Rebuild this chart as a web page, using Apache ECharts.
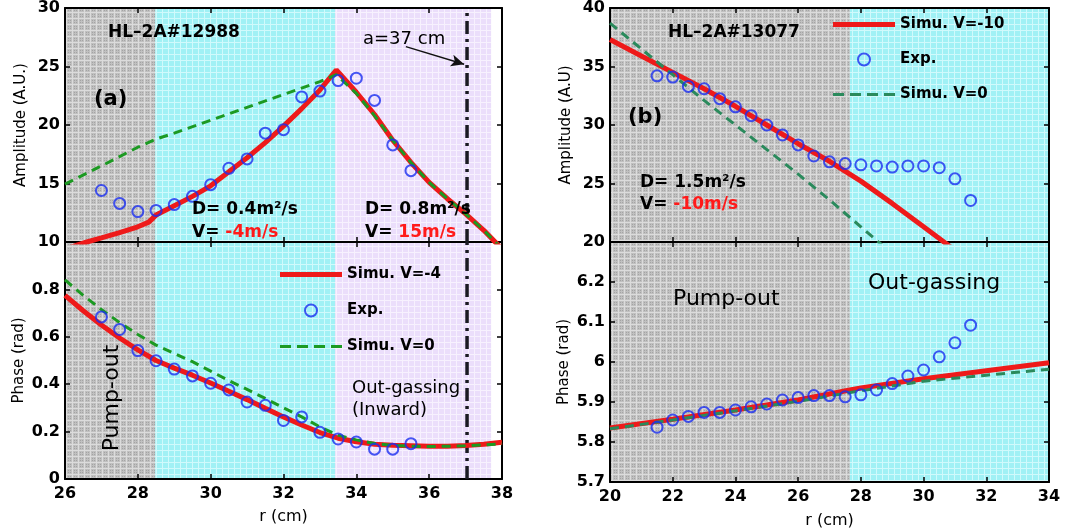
<!DOCTYPE html>
<html><head><meta charset="utf-8">
<script src="https://cdn.jsdelivr.net/npm/echarts/dist/echarts.min.js"></script>
<style>html,body{margin:0;padding:0;background:#fff}#c{width:1088px;height:530px}</style>
</head><body><div id="c"></div><script>
// ---------- data ----------
// Panel (a) HL-2A#12988
const rExpA = [27,27.5,28,28.5,29,29.5,30,30.5,31,31.5,32,32.5,33,33.5,34,34.5,35,35.5];
const ampExpA = [14.4,13.3,12.6,12.7,13.2,13.9,14.9,16.3,17.1,19.3,19.6,22.4,22.9,23.8,24.0,22.1,18.3,16.1];
const rSimA_red = [26,26.6,27,27.5,28,28.3,28.5,29,29.5,30,30.5,31,31.5,32,32.5,33,33.45,34,34.5,35,35.5,36,36.5,37,37.5,38];
const ampSimA_red = [9.4,10.0,10.35,10.8,11.3,11.7,12.3,13.1,13.9,14.8,16.0,17.2,18.5,19.9,21.4,23.0,24.7,22.8,20.9,18.7,16.8,15.1,13.7,12.4,11.0,9.4];
const rSimA_green = [26,27,28,28.5,29,30,31,32,33,33.45,34,34.5,35,35.5,36,36.5,37,37.5,38];
const ampSimA_green = [14.95,16.5,18.1,18.8,19.3,20.4,21.5,22.6,23.7,24.3,22.7,20.8,18.7,16.8,15.1,13.7,12.4,11.0,9.4];
const phExpA = [0.684,0.631,0.542,0.499,0.464,0.435,0.404,0.376,0.325,0.311,0.247,0.262,0.197,0.169,0.156,0.126,0.126,0.149];
const rPhSimA = [26,26.5,27,27.5,28,28.5,29,29.5,30,30.5,31,31.5,32,32.5,33,33.5,34,34.5,35,35.5,36,36.5,37,37.5,38];
const phSimA_red = [0.775,0.71,0.65,0.595,0.545,0.5,0.468,0.438,0.405,0.37,0.335,0.298,0.262,0.228,0.196,0.172,0.157,0.147,0.142,0.14,0.138,0.138,0.141,0.147,0.155];
const phSimA_green = [0.84,0.775,0.715,0.66,0.61,0.565,0.53,0.495,0.455,0.415,0.378,0.34,0.30,0.262,0.22,0.185,0.165,0.15,0.142,0.138,0.137,0.138,0.14,0.144,0.148];
const regionsA = [26,28.48,33.42,37.7];   // pump-out | cyan | out-gassing bounds
const minorRadiusA = 37.04;
const arrowA = [[35.36,26.7],[36.96,25.2]];

// Panel (b) HL-2A#13077
const rExpB = [21.5,22,22.5,23,23.5,24,24.5,25,25.5,26,26.5,27,27.5,28,28.5,29,29.5,30,30.5,31,31.5];
const ampExpB = [34.2,34.1,33.3,33.1,32.25,31.55,30.8,30.0,29.15,28.3,27.35,26.85,26.7,26.6,26.5,26.4,26.5,26.5,26.35,25.4,23.55];
const rSimB_red = [20,21,22,23,24,25,26,27,28,29,30,31];
const ampSimB_red = [37.3,35.9,34.5,33.1,31.6,30.0,28.4,26.9,25.2,23.3,21.3,19.3];
const rSimB_green = [20,21,22,23,24,25,26,27,28,29];
const ampSimB_green = [38.7,36.5,34.3,32.1,30.0,27.9,25.8,23.6,21.3,19.0];
const phExpB = [5.837,5.855,5.864,5.874,5.874,5.880,5.888,5.895,5.905,5.911,5.916,5.916,5.913,5.918,5.930,5.946,5.965,5.980,6.013,6.048,6.092];
const rPhSimB_red = [20,22,24,26,27.65,28,30,32,34];
const phSimB_red = [5.835,5.857,5.88,5.905,5.93,5.935,5.958,5.978,5.998];
const rPhSimB_green = [20,22,24,26,28,30,32,34];
const phSimB_green = [5.833,5.855,5.878,5.902,5.928,5.952,5.967,5.982];
const regionsB = [20,27.65,34];

// axis ranges [min,max,interval]
const xRanges = [[26,38,2],[26,38,2],[20,34,2],[20,34,2]];
const yRanges = [[10,30,5],[0,1,0.2],[20,40,5],[5.7,6.3,0.1]];
const yNames = ['Amplitude (A.U.)','Phase (rad)','Amplitude (A.U)','Phase (rad)'];

// ---------- helpers ----------
const F = 'DejaVu Sans';
const zip = (a,b) => a.map((v,i)=>[v,b[i]]);
function pat(base, light, dark, size){
  const c=document.createElement('canvas'); c.width=c.height=size;
  const g=c.getContext('2d');
  g.fillStyle=base; g.fillRect(0,0,size,size);
  g.fillStyle=light; g.fillRect(0,0,size,1); g.fillRect(0,0,1,size);
  if(dark){ g.fillStyle=dark; for(let i=2;i<size;i+=2){ for(let j=2;j<size;j+=2){ g.fillRect(i,j,1,1);} } }
  return {image:c, repeat:'repeat'};
}
const pGray = pat('#c0c0c0','#dcdcdc','#a4a4a4',6);
const pCyan = pat('#a0f1f5','#d0fafc',null,6);
const pLav  = pat('#ebdefb','#f7f1fe',null,6);

const grids = [
  {left:65, top:6, width:437, height:236},
  {left:65, top:242, width:437, height:237},
  {left:610, top:6, width:439, height:236},
  {left:610, top:242, width:439, height:243}
];
const axLine = {show:true, onZero:false, lineStyle:{color:'#000', width:2}};
const tick = {show:true, inside:true, length:5, lineStyle:{color:'#000', width:1.5}};
const lblStyle = {fontFamily:F, fontWeight:'bold', fontSize:16, color:'#000'};
const xAxis=[], yAxis=[];
for(let i=0;i<4;i++){
  const [x0,x1,xi]=xRanges[i], [y0,y1,yi]=yRanges[i];
  const bottom = i%2===1;
  xAxis.push({type:'value', gridIndex:i, min:x0, max:x1, interval:xi, position:'bottom', z:3,
    axisLine:axLine, axisTick:tick, splitLine:{show:false},
    axisLabel:Object.assign({show:bottom, margin:7}, lblStyle),
    name: bottom?'r (cm)':'', nameLocation:'middle', nameGap: i===3?31:30,
    nameTextStyle:{fontFamily:F, fontSize:16, color:'#000'}});
  xAxis.push({type:'value', gridIndex:i, min:x0, max:x1, interval:xi, position:'top', z:3,
    axisLine:axLine, axisTick:tick, splitLine:{show:false}, axisLabel:{show:false}});
  yAxis.push({type:'value', gridIndex:i, min:y0, max:y1, interval:yi, position:'left', z:3,
    axisLine:axLine, axisTick:tick, splitLine:{show:false},
    axisLabel:Object.assign({margin:5, showMaxLabel: !bottom}, lblStyle),
    name:yNames[i], nameLocation:'middle', nameGap:i%2===0?36:38,
    nameTextStyle:{fontFamily:F, fontSize:15, color:'#000'}});
  yAxis.push({type:'value', gridIndex:i, min:y0, max:y1, interval:yi, position:'right', z:3,
    axisLine:axLine, axisTick:tick, splitLine:{show:false}, axisLabel:{show:false}});
}

const RED='#ee1a1a', GREEN_A='#1c9a22', GREEN_B='#2a8a5c', BLUE='#1a2ef0';
function bg(i, bounds, pats){
  const data=[];
  for(let k=0;k<pats.length;k++) data.push([{xAxis:bounds[k], itemStyle:{color:pats[k]}},{xAxis:bounds[k+1]}]);
  return {type:'line', xAxisIndex:2*i, yAxisIndex:2*i, data:[[bounds[0], yRanges[i][0]]], symbol:'none',
    lineStyle:{opacity:0}, z:1, silent:true, markArea:{silent:true, data}};
}
function line(i,name,data,color,width,type,z){
  return {type:'line', name, xAxisIndex:2*i, yAxisIndex:2*i, data, symbol:'none', showSymbol:false,
    lineStyle:{color, width, type}, itemStyle:{color}, z:z, silent:true, animation:false};
}
function scat(i,name,data){
  return {type:'scatter', name, xAxisIndex:2*i, yAxisIndex:2*i, data, symbol:'circle', symbolSize:11,
    itemStyle:{color:'rgba(0,0,0,0)', borderColor:BLUE, borderWidth:2}, z:6, silent:true, animation:false};
}
const dashDot = [13,5,3,5];
const series = [
  bg(0, regionsA, [pGray,pCyan,pLav]),
  bg(1, regionsA, [pGray,pCyan,pLav]),
  bg(2, regionsB, [pGray,pCyan]),
  bg(3, regionsB, [pGray,pCyan]),
  // vertical a=37 cm
  Object.assign(line(0,'a',[[minorRadiusA,yRanges[0][0]],[minorRadiusA,yRanges[0][1]]],'#1a1a22',3.5,dashDot,4),
    {markLine:{silent:true, symbol:['none','arrow'], symbolSize:[9,13], label:{show:false},
      lineStyle:{color:'#111', width:1.5, type:'solid'}, data:[[{coord:arrowA[0]},{coord:arrowA[1]}]]}}),
  line(1,'a2',[[minorRadiusA,yRanges[1][0]],[minorRadiusA,yRanges[1][1]]],'#1a1a22',3.5,dashDot,4),
  // panel a
  line(0,'Simu. V=-4',zip(rSimA_red,ampSimA_red),RED,5,'solid',5),
  line(0,'Simu. V=0',zip(rSimA_green,ampSimA_green),GREEN_A,3,[9,6],5),
  scat(0,'Exp.',zip(rExpA,ampExpA)),
  line(1,'Simu. V=-4',zip(rPhSimA,phSimA_red),RED,5,'solid',5),
  line(1,'Simu. V=0',zip(rPhSimA,phSimA_green),GREEN_A,3,[9,6],5),
  scat(1,'Exp.',zip(rExpA,phExpA)),
  // panel b
  line(2,'Simu. V=-10',zip(rSimB_red,ampSimB_red),RED,5,'solid',5),
  line(2,'Simu. V=0 ',zip(rSimB_green,ampSimB_green),GREEN_B,3,[9,6],5),
  scat(2,'Exp. ',zip(rExpB,ampExpB)),
  line(3,'Simu. V=-10',zip(rPhSimB_red,phSimB_red),RED,5,'solid',5),
  line(3,'Simu. V=0 ',zip(rPhSimB_green,phSimB_green),GREEN_B,3,[9,6],5),
  scat(3,'Exp. ',zip(rExpB,phExpB))
];

const solidIcon = 'path://M0,0H62V5H0Z';
const dashIcon = 'path://M0,0H11V3H0Z M17,0H28V3H17Z M34,0H45V3H34Z M51,0H62V3H51Z';
const legTxt = {fontFamily:F, fontWeight:'bold', fontSize:15, color:'#000'};
const legend = [
  {data:[{name:'Simu. V=-4', icon:solidIcon},'Exp.',{name:'Simu. V=0', icon:dashIcon}],
   left:280, top:267, orient:'vertical', padding:0, symbolKeepAspect:true,
   itemWidth:62, itemHeight:12, itemGap:21, selectedMode:false, textStyle:legTxt, z:10},
  {data:[{name:'Simu. V=-10', icon:solidIcon},'Exp. ',{name:'Simu. V=0 ', icon:dashIcon}],
   left:833, top:17, orient:'vertical', padding:0, symbolKeepAspect:true,
   itemWidth:62, itemHeight:12, itemGap:20, selectedMode:false, textStyle:legTxt, z:10,
   formatter:n=>n.trim()}
];

function txt(x,y,text,font,extra){
  return Object.assign({type:'text', x, y, z:20, silent:true,
    style:{text, font, fill:'#000', verticalAlign:'middle', align:'left'}}, extra||{});
}
function rich(x,y,a,b,font){
  return {type:'text', x, y, z:20, silent:true, style:{text:'{a|'+a+'}{b|'+b+'}', verticalAlign:'middle', align:'left',
    font, rich:{a:{font, fill:'#000'}, b:{font, fill:'#ff1a1a'}}}};
}
const bold17 = 'bold 17px "DejaVu Sans"';
const graphic = [
  txt(108,33,'HL–2A#12988',bold17),
  txt(94,100,'(a)','bold 21px "DejaVu Sans"'),
  txt(192,210,'D= 0.4m²/s',bold17),
  rich(192,233,'V= ','-4m/s',bold17),
  txt(365,210,'D= 0.8m²/s',bold17),
  rich(365,233,'V= ','15m/s',bold17),
  txt(363,39,'a=37 cm','18px "DejaVu Sans"'),
  {type:'text', x:112, y:398, rotation:Math.PI/2, z:20, silent:true,
    style:{text:'Pump-out', font:'22px "DejaVu Sans"', fill:'#000', align:'center', verticalAlign:'middle'}},
  txt(352,388,'Out-gassing','18px "DejaVu Sans"'),
  txt(352,410,'(Inward)','18px "DejaVu Sans"'),
  txt(668,33,'HL–2A#13077',bold17),
  txt(628,118,'(b)','bold 21px "DejaVu Sans"'),
  txt(640,183,'D= 1.5m²/s',bold17),
  rich(640,205,'V= ','-10m/s',bold17),
  txt(673,299,'Pump-out','22px "DejaVu Sans"'),
  txt(868,283,'Out-gassing','22px "DejaVu Sans"')
];

const chart = echarts.init(document.getElementById('c'), null, {renderer:'canvas'});
chart.setOption({animation:false, backgroundColor:'#fff', grid:grids, xAxis, yAxis, series, legend, graphic});
</script></body></html>
